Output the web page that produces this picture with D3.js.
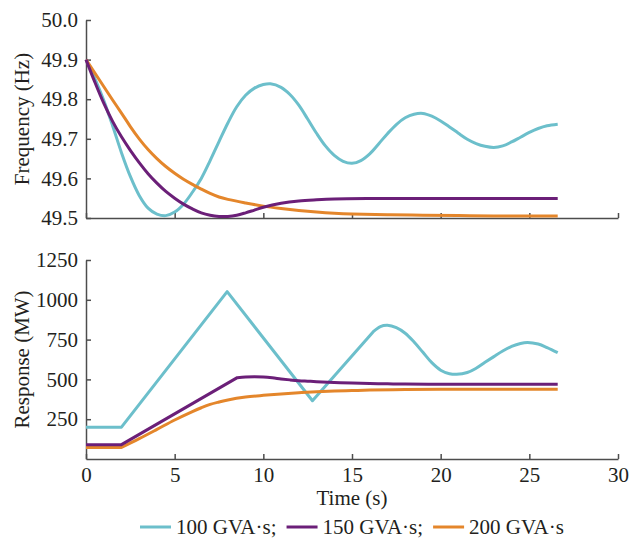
<!DOCTYPE html>
<html>
<head>
<meta charset="utf-8">
<script src="https://cdn.jsdelivr.net/npm/d3@7"></script>
<style>
  html, body { margin: 0; padding: 0; background: #fff; }
  svg { display: block; }
  text { font-family: "Liberation Serif", "Times New Roman", serif; fill: #231f20; }
</style>
</head>
<body>
<svg id="chart" width="630" height="538"></svg>
<script>
// ---------------- DATA ----------------
const seriesNames = ["100 GVA\u00b7s;", "150 GVA\u00b7s;", "200 GVA\u00b7s"];
const seriesColors = ["#6cbfcb", "#6b1f78", "#e4862b"];

const xTicks = [0, 5, 10, 15, 20, 25, 30];
const freqTicks = [49.5, 49.6, 49.7, 49.8, 49.9, 50.0];
const respTicks = [250, 500, 750, 1000, 1250];

// Frequency (Hz)
const freqT100 = [0,0.5,1,1.5,2,2.5,3,3.5,4,4.5,5,5.5,6,6.5,7,7.5,8,8.5,9,9.5,10,10.4,11,11.5,12,12.5,13,13.5,14,14.5,15,15.5,16,16.5,17,17.5,18,18.5,19,19.5,20,20.5,21,21.5,22,22.5,23,23.5,24,24.5,25,25.5,26,26.6];
const freqV100 = [49.900,49.852,49.797,49.733,49.665,49.605,49.557,49.525,49.510,49.506,49.515,49.535,49.565,49.600,49.645,49.693,49.740,49.781,49.810,49.828,49.837,49.839,49.830,49.812,49.785,49.750,49.714,49.682,49.658,49.643,49.638,49.645,49.662,49.687,49.713,49.736,49.753,49.762,49.764,49.757,49.745,49.730,49.714,49.699,49.688,49.681,49.678,49.682,49.692,49.704,49.716,49.726,49.733,49.737];

const freqT150 = [0,0.5,1,1.5,2,2.5,3,3.5,4,4.5,5,5.5,6,6.5,7,7.5,8,8.5,9,9.5,10,11,12,13,14,16,18,20,22,24,26.6];
const freqV150 = [49.900,49.843,49.790,49.744,49.705,49.671,49.640,49.612,49.588,49.567,49.550,49.535,49.523,49.513,49.507,49.504,49.504,49.507,49.513,49.520,49.527,49.537,49.543,49.546,49.548,49.549,49.549,49.549,49.549,49.549,49.549];

const freqT200 = [0,0.5,1,1.5,2,2.5,3,3.5,4,4.5,5,5.5,6,6.5,7,7.5,8,9,10,11,12,13,14,15,17,19,21,23,26.6];
const freqV200 = [49.900,49.866,49.832,49.798,49.765,49.731,49.700,49.673,49.650,49.630,49.613,49.598,49.585,49.573,49.562,49.553,49.547,49.538,49.530,49.524,49.519,49.515,49.512,49.510,49.508,49.507,49.506,49.505,49.505];

// Response (MW)
const respT100 = [0,2,7.96,12.77,16.2,16.6,17.0,17.5,18,18.5,19,19.5,20,20.5,20.9,21.5,22,22.5,23,23.5,24,24.5,24.9,25.5,26,26.6];
const respV100 = [200,200,1051,366,800,832,840,825,790,735,670,605,558,536,532,543,570,607,643,678,707,726,732,722,700,668];

const respT150 = [0,2,8.53,9,9.5,10,10.5,11,11.5,12,12.5,13,14,15,16,17,18,20,22,24,26.6];
const respV150 = [90,90,511,515,517,515,510,503,497,492,489,486,481,477,474,472,471,470,470,470,470];

const respT200 = [0,2,3,4,5,6,6.5,7,7.5,8,9,10,11,12,13,14,15,16,18,20,22,24,26.6];
const respV200 = [73,73,128,186,245,298,322,343,358,371,389,400,409,416,422,427,430,433,436,438,438,438,438];

// index from which each response series is drawn as a smooth curve (before: straight ramps)
const respSmoothFrom = [4, 2, 1];

// ---------------- LAYOUT ----------------
const svg = d3.select("#chart");
svg.append("rect").attr("width", 630).attr("height", 538).attr("fill", "#fff");

const left = 86, right = 618;
const top1 = 20, bot1 = 218;
const top2 = 260, bot2 = 459;
const axisColor = "#4d4d4d";
const fontSize = 21;

const x = d3.scaleLinear().domain([0, 30]).range([left, right]);
const yF = d3.scaleLinear().domain([49.5, 50.0]).range([bot1, top1]);
const yR = d3.scaleLinear().domain([0, 1250]).range([bot2, top2]);

function styleAxis(g) {
  g.selectAll("path.domain").attr("stroke", axisColor).attr("stroke-width", 1.5);
  g.selectAll(".tick line").attr("stroke", axisColor).attr("stroke-width", 1.5);
  g.selectAll(".tick text")
    .attr("font-family", "Liberation Serif, Times New Roman, serif")
    .attr("font-size", fontSize).attr("fill", "#231f20");
}

// Top panel axes
svg.append("g").attr("transform", `translate(0,${bot1})`)
  .call(d3.axisBottom(x).tickValues(xTicks).tickSize(-5).tickSizeOuter(0).tickFormat(""))
  .call(styleAxis);
svg.append("g").attr("transform", `translate(${left},0)`)
  .call(d3.axisLeft(yF).tickValues(freqTicks).tickSize(-5).tickSizeOuter(0).tickPadding(8).tickFormat(d3.format(".1f")))
  .call(styleAxis);

// Bottom panel axes
svg.append("g").attr("transform", `translate(0,${bot2})`)
  .call(d3.axisBottom(x).tickValues(xTicks).tickSize(-5).tickSizeOuter(0).tickPadding(8).tickFormat(d3.format("d")))
  .call(styleAxis)
  .call(g => g.selectAll(".tick text").attr("y", 8));
svg.append("g").attr("transform", `translate(${left},0)`)
  .call(d3.axisLeft(yR).tickValues(respTicks).tickSize(-5).tickSizeOuter(0).tickPadding(8).tickFormat(d3.format("d")))
  .call(styleAxis);

// Axis titles
svg.append("text").attr("transform", `translate(29,${(top1 + bot1) / 2}) rotate(-90)`)
  .attr("text-anchor", "middle").attr("font-size", fontSize).text("Frequency (Hz)");
svg.append("text").attr("transform", `translate(29,${(top2 + bot2) / 2}) rotate(-90)`)
  .attr("text-anchor", "middle").attr("font-size", fontSize).text("Response (MW)");
svg.append("text").attr("x", (left + right) / 2).attr("y", 505)
  .attr("text-anchor", "middle").attr("font-size", fontSize).text("Time (s)");

// Lines
const freqSeries = [[freqT100, freqV100], [freqT150, freqV150], [freqT200, freqV200]];
const respSeries = [[respT100, respV100], [respT150, respV150], [respT200, respV200]];

const lineF = d3.line().x(d => x(d[0])).y(d => yF(d[1])).curve(d3.curveCatmullRom.alpha(0.5));
const lineRStraight = d3.line().x(d => x(d[0])).y(d => yR(d[1])).curve(d3.curveLinear);
const lineRSmooth = d3.line().x(d => x(d[0])).y(d => yR(d[1])).curve(d3.curveCatmullRom.alpha(0.5));

const order = [0, 2, 1];
order.forEach(i => {
  const [t, v] = freqSeries[i];
  svg.append("path").datum(t.map((ti, k) => [ti, v[k]]))
    .attr("d", lineF).attr("fill", "none").attr("stroke", seriesColors[i])
    .attr("stroke-width", 3).attr("stroke-linejoin", "round");
});
order.forEach(i => {
  const [t, v] = respSeries[i];
  const pts = t.map((ti, k) => [ti, v[k]]);
  const s = respSmoothFrom[i];
  const d = lineRStraight(pts.slice(0, s + 1)) + lineRSmooth(pts.slice(s)).replace(/^M/, "L");
  svg.append("path").attr("d", d).attr("fill", "none").attr("stroke", seriesColors[i])
    .attr("stroke-width", 3).attr("stroke-linejoin", "round");
});

// Legend
const legend = svg.append("g");
let lx = 140;
const ly = 527;
seriesNames.forEach((name, i) => {
  legend.append("line").attr("x1", lx).attr("x2", lx + 31).attr("y1", ly).attr("y2", ly)
    .attr("stroke", seriesColors[i]).attr("stroke-width", 3);
  const t = legend.append("text").attr("x", lx + 36).attr("y", ly + 7)
    .attr("font-size", fontSize).text(name);
  const w = t.node().getComputedTextLength();
  lx = lx + 36 + w + 10;
});
</script>
</body>
</html>
